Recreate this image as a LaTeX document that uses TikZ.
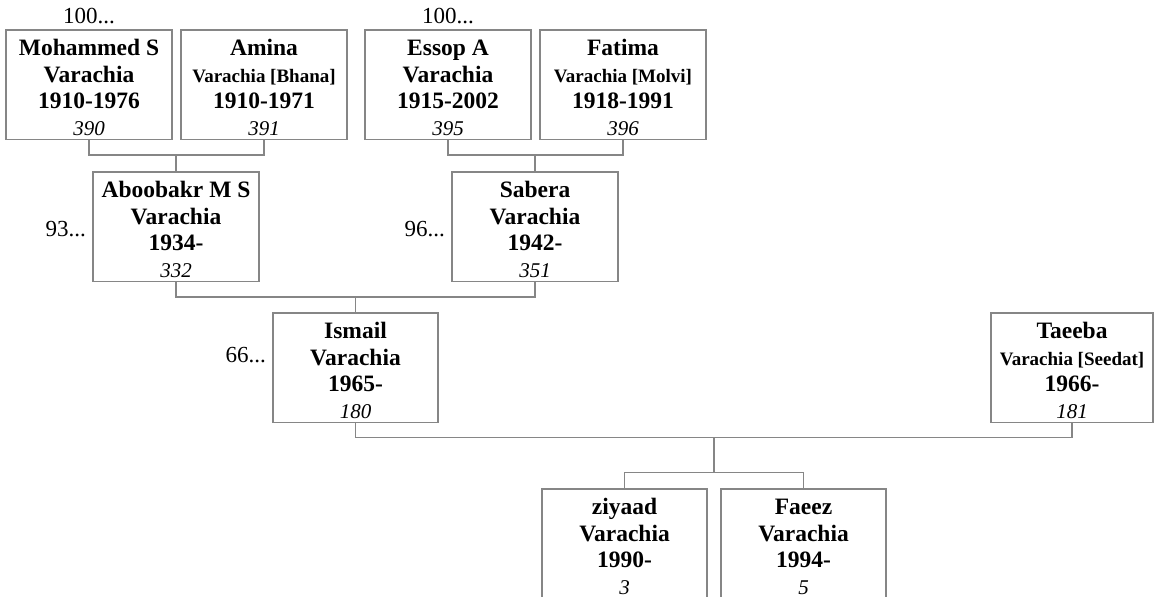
\documentclass[tikz,border=0pt]{standalone}
\usepackage{fontspec}
\setmainfont{Liberation Serif}
\definecolor{linegray}{RGB}{134,134,134}
\newcommand{\pname}[1]{\rule{0pt}{13pt}#1}
\newcommand{\sname}[1]{{\fontsize{9.5}{13.25}\selectfont #1}}
\newcommand{\refno}[1]{{\mdseries\itshape\fontsize{10.5}{13.25}\selectfont #1\rule[-2pt]{0pt}{2pt}}}
\begin{document}
\begin{tikzpicture}[x=0.5pt,y=-0.5pt,
  person/.style={draw=linegray, line width=0.75pt, fill=white, minimum width=83pt,
    minimum height=54.5pt, inner sep=0pt, align=center,
    font=\bfseries\fontsize{11.75}{13.25}\selectfont},
  link/.style={draw=linegray, line width=0.7pt},
  more/.style={inner sep=0pt, font=\fontsize{11.5}{13.25}\selectfont}]
\clip (0,0) rectangle (1154,596);
\fill[white] (0,0) rectangle (1154,596);

% Grandparents
% Varachia side and Varachia [Molvi] side
  \node[person] (mohammed) at (89,84.5) {\pname{Mohammed S}\\Varachia\\1910-1976\\\refno{390}};
  \node[person] (amina) at (264,84.5) {\pname{Amina}\\\sname{Varachia [Bhana]}\\1910-1971\\\refno{391}};
  \node[person] (essop) at (448,84.5) {\pname{Essop A}\\Varachia\\1915-2002\\\refno{395}};
  \node[person] (fatima) at (623,84.5) {\pname{Fatima}\\\sname{Varachia [Molvi]}\\1918-1991\\\refno{396}};

  \node[more, anchor=south] (moremohammed) at ([yshift=2.5pt]mohammed.north) {100...};
  \node[more, anchor=south] (moreessop) at ([yshift=2.5pt]essop.north) {100...};

% Parents
  \node[person] (aboobakr) at (176,226.5) {\pname{Aboobakr M S}\\Varachia\\1934-\\\refno{332}};
  \node[person] (sabera) at (535,226.5) {\pname{Sabera}\\Varachia\\1942-\\\refno{351}};

  \node[more, anchor=east] (moreaboobakr) at ([xshift=-3pt,yshift=-1.5pt]aboobakr.west) {93...};
  \node[more, anchor=east] (moresabera) at ([xshift=-3pt,yshift=-1.5pt]sabera.west) {96...};

% Couple
  \node[person, minimum width=82.5pt] (ismail) at (355.5,367.5) {\pname{Ismail}\\Varachia\\1965-\\\refno{180}};
  \node[person, minimum width=81pt] (taeeba) at (1072,367.5) {\pname{Taeeba}\\\sname{Varachia [Seedat]}\\1966-\\\refno{181}};

  \node[more, anchor=east] (moreismail) at ([xshift=-3pt,yshift=6pt]ismail.west) {66...};

% Children
  \node[person, minimum width=82.5pt] (ziyaad) at (624.5,543.5) {\pname{ziyaad}\\Varachia\\1990-\\\refno{3}};
  \node[person, minimum width=82.5pt] (faeez) at (803.5,543.5) {\pname{Faeez}\\Varachia\\1994-\\\refno{5}};

% Junctions and connectors
  \coordinate (j1) at (176,155);
  \coordinate (j2) at (535,155);
  \coordinate (j3) at (355.5,297);
  \coordinate (j4) at (714,437.5);
  \coordinate (j5) at (714,472.5);

  \draw[link] (mohammed.south) |- (j1) -| (amina.south);
  \draw[link] (j1) -- (aboobakr.north);
  \draw[link] (essop.south) |- (j2) -| (fatima.south);
  \draw[link] (j2) -- (sabera.north);
  \draw[link] (aboobakr.south) |- (j3) -| (sabera.south);
  \draw[link] (j3) -- (ismail.north);
  \draw[link] (ismail.south) |- (j4) -| (taeeba.south);
  \draw[link] (j4) -- (j5);
  \draw[link] (ziyaad.north) |- (j5) -| (faeez.north);
\end{tikzpicture}
\end{document}
